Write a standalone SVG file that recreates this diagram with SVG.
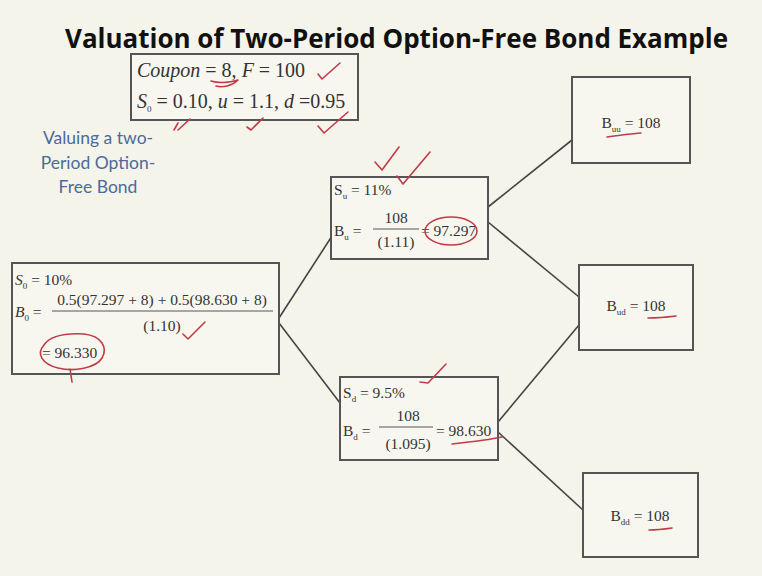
<svg xmlns="http://www.w3.org/2000/svg" width="762" height="576" viewBox="0 0 762 576">
<style>
.bg{fill:#f5f4ea}
.box{fill:#f8f7ef;stroke:#555;stroke-width:2}
.t{font-family:"Liberation Serif","Times New Roman",serif;fill:#333;font-size:15.5px}
.tb{font-family:"Liberation Serif","Times New Roman",serif;fill:#333;font-size:20px}
.title{font-family:"Open Sans","DejaVu Sans",sans-serif;font-weight:bold;font-size:26px;fill:#111}
.blue{font-family:Lato,"Open Sans",sans-serif;font-size:17.5px;fill:#4c6a9c;text-anchor:middle}
.conn{stroke:#444;stroke-width:1.6;fill:none}
.fr{stroke:#555;stroke-width:1}
.red{stroke:#c23a48;stroke-width:1.6;fill:none;stroke-linecap:round;stroke-linejoin:round}
.sub{font-size:9px}
</style>
<rect class="bg" x="0" y="0" width="762" height="576"/>
<text class="title" x="65" y="48" textLength="663" lengthAdjust="spacingAndGlyphs">Valuation of Two-Period Option-Free Bond Example</text>

<g id="given">
<rect class="box" x="131" y="54" width="227" height="66"/>
<text class="tb" x="137" y="77"><tspan font-style="italic">Coupon</tspan> = 8, <tspan font-style="italic">F</tspan> = 100</text>
<text class="tb" x="137" y="108"><tspan font-style="italic">S</tspan><tspan class="sub" dy="4">0</tspan><tspan dy="-4"> = 0.10, </tspan><tspan font-style="italic">u</tspan> = 1.1, <tspan font-style="italic">d</tspan> =0.95</text>
</g>

<g id="caption">
<text class="blue" x="98" y="144">Valuing a two-</text>
<text class="blue" x="98" y="169">Period Option-</text>
<text class="blue" x="98" y="193">Free Bond</text>
</g>

<g id="connectors">
<line class="conn" x1="279" y1="318" x2="332" y2="236"/>
<line class="conn" x1="279" y1="323" x2="340" y2="403"/>
<line class="conn" x1="488" y1="207" x2="572" y2="140"/>
<line class="conn" x1="488" y1="222" x2="579" y2="297"/>
<line class="conn" x1="498" y1="422" x2="579" y2="325"/>
<line class="conn" x1="498" y1="432" x2="583" y2="510"/>
</g>

<g id="root">
<rect class="box" x="12" y="263" width="267" height="111"/>
<text class="t" x="15" y="285"><tspan font-style="italic">S</tspan><tspan class="sub" dy="4">0</tspan><tspan dy="-4"> = 10%</tspan></text>
<text class="t" x="15" y="317"><tspan font-style="italic">B</tspan><tspan class="sub" dy="4">0</tspan><tspan dy="-4"> =</tspan></text>
<text class="t" x="162" y="305" text-anchor="middle">0.5(97.297 + 8) + 0.5(98.630 + 8)</text>
<line class="fr" x1="52" y1="311" x2="273" y2="311"/>
<text class="t" x="162" y="331" text-anchor="middle">(1.10)</text>
<text class="t" x="42" y="358">= 96.330</text>
</g>

<g id="up">
<rect class="box" x="331" y="177" width="157" height="82"/>
<text class="t" x="334" y="195">S<tspan class="sub" dy="4">u</tspan><tspan dy="-4"> = 11%</tspan></text>
<text class="t" x="334" y="236">B<tspan class="sub" dy="4">u</tspan><tspan dy="-4"> =</tspan></text>
<text class="t" x="396" y="223" text-anchor="middle">108</text>
<line class="fr" x1="373" y1="229" x2="419" y2="229"/>
<text class="t" x="396" y="247" text-anchor="middle">(1.11)</text>
<text class="t" x="421" y="236">= 97.297</text>
</g>

<g id="down">
<rect class="box" x="340" y="377" width="158" height="83"/>
<text class="t" x="343" y="398">S<tspan class="sub" dy="4">d</tspan><tspan dy="-4"> = 9.5%</tspan></text>
<text class="t" x="343" y="436">B<tspan class="sub" dy="4">d</tspan><tspan dy="-4"> =</tspan></text>
<text class="t" x="408" y="421" text-anchor="middle">108</text>
<line class="fr" x1="379" y1="427" x2="433" y2="427"/>
<text class="t" x="408" y="449" text-anchor="middle">(1.095)</text>
<text class="t" x="436" y="436">= 98.630</text>
</g>

<g id="uu">
<rect class="box" x="572" y="77" width="118" height="86"/>
<text class="t" x="631" y="128" text-anchor="middle">B<tspan class="sub" dy="4">uu</tspan><tspan dy="-4"> = 108</tspan></text>
</g>

<g id="ud">
<rect class="box" x="579" y="265" width="114" height="85"/>
<text class="t" x="636" y="311" text-anchor="middle">B<tspan class="sub" dy="4">ud</tspan><tspan dy="-4"> = 108</tspan></text>
</g>

<g id="dd">
<rect class="box" x="583" y="473" width="115" height="84"/>
<text class="t" x="640" y="521" text-anchor="middle">B<tspan class="sub" dy="4">dd</tspan><tspan dy="-4"> = 108</tspan></text>
</g>

<g id="annotations">
<path class="red" d="M318,74 L322,79 L340,63"/>
<path class="red" d="M211,81 C220,84 232,82 238,80 C232,86 222,88 216,86"/>
<path class="red" d="M174,130 L178,123 M178,130 L190,119"/>
<path class="red" d="M247,127 L251,130 L263,118"/>
<path class="red" d="M318,126 L324,133 L348,112"/>
<path class="red" d="M375,162 L382,170 L399,147"/>
<path class="red" d="M397,176 L403,184 L430,152"/>
<ellipse class="red" cx="451" cy="231" rx="26" ry="14"/>
<path class="red" d="M420,382 L428,383 L446,364"/>
<path class="red" d="M452,444 C470,442 488,440 502,437"/>
<path class="red" d="M183,334 L188,339 L205,322"/>
<path class="red" d="M44,345 C50,336 66,333 84,334 C102,336 108,348 102,358 C96,368 74,372 58,368 C42,364 36,354 44,345 M70,369 L72,382"/>
<path class="red" d="M607,137 C620,135 632,134 641,133"/>
<path class="red" d="M648,318 C658,318 668,317 676,316"/>
<path class="red" d="M649,530 C657,530 665,529 672,528"/>
</g>
</svg>
